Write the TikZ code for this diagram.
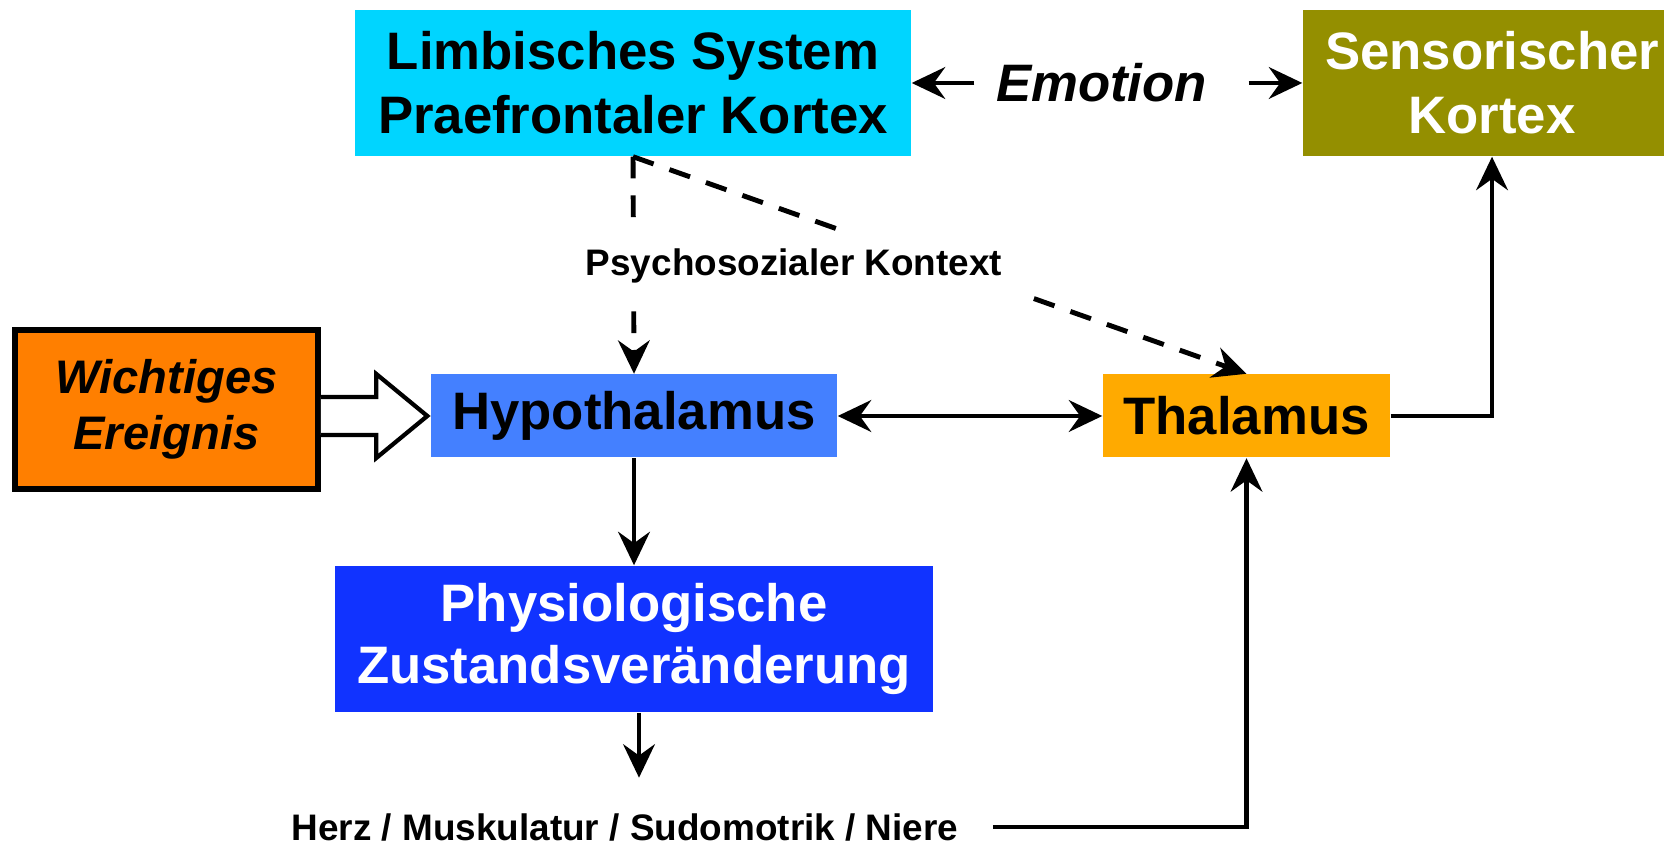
\documentclass[tikz,border=0pt]{standalone}
\usepackage{fontspec}
\setmainfont{Liberation Sans}
\usepackage{tikz}
\usetikzlibrary{arrows.meta,calc}
\definecolor{limbcol}{RGB}{0,213,255}
\definecolor{senscol}{RGB}{148,143,0}
\definecolor{hypocol}{RGB}{68,128,255}
\definecolor{thalcol}{RGB}{255,170,0}
\definecolor{physcol}{RGB}{17,51,255}
\definecolor{wichcol}{RGB}{255,127,0}

\begin{document}
\begin{tikzpicture}[
  box/.style={inner sep=0pt, align=center, font=\fontsize{15}{18.2}\selectfont\bfseries},
  small/.style={inner sep=0pt, font=\fontsize{10.5}{12}\selectfont\bfseries},
  tip/.tip={Stealth[length=9.5pt,width=9pt,inset=3.2pt]},
  arr/.style={-tip, line width=1.4pt},
  dasharr/.style={arr, dash pattern=on 6.2pt off 4.8pt},
  hollow/.style={draw, fill=white, line width=1.2pt, line join=miter}
  ]
 \useasboundingbox (0,0) rectangle (16.64,8.43);
 \node[box, fill=limbcol, minimum width=5.56cm, minimum height=1.46cm] (limb) at (6.33,7.60) {Limbisches System\\Praefrontaler Kortex};
 \node[box, fill=senscol, text=white, minimum width=3.78cm, minimum height=1.46cm] (sens) at (14.92,7.60) {Sensorischer\\Kortex};
 \node[box, font=\fontsize{15}{18}\selectfont\bfseries\itshape, minimum width=2.73cm] (emo) at (11.115,7.60) {Emotion\kern0.2cm};
 \node[box, fill=hypocol, minimum width=4.06cm, minimum height=0.83cm] (hypo) at (6.34,4.27) {Hypothalamus};
 \node[box, fill=thalcol, minimum width=2.87cm, minimum height=0.83cm] (thal) at (12.465,4.27) {Thalamus};
 \node[box, fill=physcol, text=white, minimum width=5.98cm, minimum height=1.46cm, font=\fontsize{15}{17.4}\selectfont\bfseries] (phys) at (6.34,2.04) {Physiologische\\Zustandsveränderung};
 \node[box, draw, line width=1.7pt, fill=wichcol, minimum width=3.03cm, minimum height=1.59cm, font=\fontsize{13.4}{16}\selectfont\bfseries\itshape] (wich) at (1.665,4.335) {Wichtiges\\Ereignis};
 \node[small] (herz) at (6.25,0.16) {Herz / Muskulatur / Sudomotrik / Niere};

 \draw[arr] (emo.west) -- (limb.east);
 \draw[arr] (emo.east) -- (sens.west);
 \draw[dasharr] (limb.south) -- (hypo.north);
 \draw[dasharr] (limb.south) -- (thal.north);
 \node[small, fill=white, inner xsep=0.17cm, inner ysep=0.18cm] (kontext) at (7.94,5.77) {Psychosozialer Kontext};
 \draw[arr, tip-tip] (hypo.east) -- (thal.west);
 \draw[arr] (hypo.south) -- (phys.north);
 \draw[arr] ([xshift=0.05cm]phys.south) -- ++(0,-0.65);
 \draw[arr] ([xshift=0.34cm]herz.east) -| (thal.south);
 \draw[arr] (thal.east) -| (sens.south);
 \draw[hollow] ($(wich.east |- hypo.west)+(0,0.19)$) -- ($(hypo.west)+(-0.54,0.19)$) -- ++(0,0.23)
   -- ($(hypo.west)+(-0.03,0)$) -- ($(hypo.west)+(-0.54,-0.42)$) -- ++(0,0.23)
   -- ($(wich.east |- hypo.west)+(0,-0.19)$);
\end{tikzpicture}
\end{document}
